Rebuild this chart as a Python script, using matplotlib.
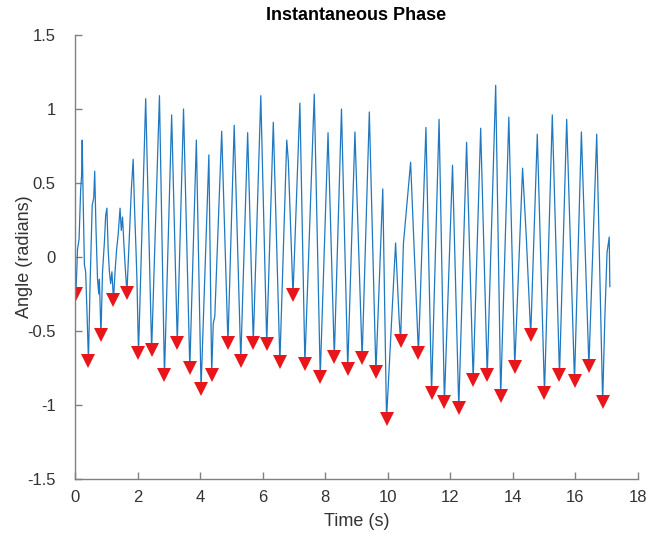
import matplotlib
matplotlib.use("Agg")
import matplotlib.pyplot as plt

plt.rcParams['font.family'] = ['Liberation Sans', 'DejaVu Sans']

# Instantaneous phase trace (vertices)
line_t = [0.00, 0.03, 0.08, 0.13, 0.18, 0.21, 0.23, 0.26, 0.30, 0.34, 0.38, 0.43,
          0.48, 0.55, 0.60, 0.63, 0.67, 0.72, 0.76, 0.78, 0.83,
          0.88, 0.94, 0.98, 1.02, 1.06, 1.10, 1.14, 1.18, 1.23,
          1.28, 1.33, 1.38, 1.44, 1.48, 1.52, 1.56, 1.60, 1.66,
          1.72, 1.80, 1.86, 1.90, 1.95, 1.98, 2.03,
          2.26, 2.45, 2.70, 2.86, 3.09, 3.27, 3.47, 3.67, 3.88, 4.03, 4.28, 4.37,
          4.42, 4.47, 4.69, 4.89, 5.09, 5.30, 5.52, 5.70, 5.94, 6.13, 6.34, 6.55,
          6.77, 6.82, 6.97, 7.19, 7.35, 7.65, 7.84, 8.09, 8.29, 8.52, 8.72,
          8.95, 9.18, 9.41, 9.62, 9.84, 9.96, 10.25, 10.36, 10.41, 10.50, 10.73,
          10.98, 11.22, 11.40, 11.64, 11.81, 12.07, 12.27, 12.52, 12.73, 12.97,
          13.18, 13.45, 13.61, 13.87, 14.06, 14.31, 14.43, 14.57, 14.78, 15.01,
          15.26, 15.49, 15.72, 15.97, 16.19, 16.43, 16.68, 16.87, 16.94, 17.01,
          17.08, 17.10]
line_y = [-0.02, -0.25, 0.05, 0.12, 0.45, 0.55, 0.79, 0.40, -0.05, -0.10, -0.35, -0.70,
          -0.20, 0.35, 0.40, 0.58, 0.20, -0.15, -0.25, -0.15, -0.53,
          -0.10, 0.10, 0.28, 0.33, 0.05, -0.10, -0.18, -0.10, -0.29,
          -0.10, 0.05, 0.15, 0.33, 0.18, 0.27, 0.10, -0.05, -0.24,
          0.05, 0.45, 0.66, 0.35, 0.05, -0.15, -0.65,
          1.07, -0.63, 1.09, -0.80, 0.96, -0.58, 1.00, -0.75, 0.79, -0.89, 0.69, -0.795,
          -0.45, -0.40, 0.85, -0.58, 0.89, -0.70, 0.84, -0.58, 1.09, -0.585, 0.91, -0.71,
          0.79, 0.65, -0.26, 1.04, -0.72, 1.10, -0.81, 0.84, -0.675, 1.00, -0.755,
          0.845, -0.685, 0.98, -0.78, 0.46, -1.095, 0.095, -0.41, -0.57, 0.09, 0.64,
          -0.65, 0.875, -0.92, 0.93, -0.98, 0.62, -1.02, 0.775, -0.83, 0.87,
          -0.80, 1.16, -0.94, 0.945, -0.74, 0.60, 0.13, -0.53, 0.83, -0.92,
          0.96, -0.80, 0.93, -0.84, 0.845, -0.735, 0.83, -0.98, -0.41, 0.03,
          0.135, -0.20]

# Detected troughs (red markers)
trough_t = [0.02, 0.43, 0.83, 1.23, 1.66, 2.03, 2.45, 2.86, 3.27, 3.67, 4.03, 4.37,
            4.89, 5.30, 5.70, 6.13, 6.55, 6.97, 7.35, 7.84, 8.29, 8.72, 9.18, 9.62,
            9.96, 10.41, 10.98, 11.40, 11.81, 12.27, 12.73, 13.18, 13.61, 14.06,
            14.57, 15.01, 15.49, 15.97, 16.43, 16.87]
trough_y = [-0.25, -0.70, -0.53, -0.29, -0.24, -0.65, -0.63, -0.80, -0.58, -0.75, -0.89, -0.795,
            -0.58, -0.70, -0.58, -0.585, -0.71, -0.26, -0.72, -0.81, -0.675, -0.755, -0.685, -0.78,
            -1.095, -0.57, -0.65, -0.92, -0.98, -1.02, -0.83, -0.80, -0.94, -0.74,
            -0.53, -0.92, -0.80, -0.84, -0.735, -0.98]

x_ticks = [0, 2, 4, 6, 8, 10, 12, 14, 16, 18]
y_ticks = [-1.5, -1, -0.5, 0, 0.5, 1, 1.5]
y_tick_labels = ['-1.5', '-1', '-0.5', '0', '0.5', '1', '1.5']

fig = plt.figure(figsize=(6.56, 5.38), dpi=100)
ax = fig.add_axes([75/656, 1-479/538, (638-75)/656, (479-35)/538])

ax.plot(line_t, line_y, color='#1F78C0', linewidth=0.9)
ax.plot(trough_t, trough_y, linestyle='none', marker='v', color='#E8161B',
        markersize=10, markeredgewidth=0)

ax.set_xlim(0, 18)
ax.set_ylim(-1.5, 1.5)
ax.set_xticks(x_ticks)
ax.set_yticks(y_ticks)
ax.set_yticklabels(y_tick_labels)

for s in ['top', 'right']:
    ax.spines[s].set_visible(False)
for s in ['left', 'bottom']:
    ax.spines[s].set_color('#808080')
    ax.spines[s].set_linewidth(1.0)
ax.tick_params(direction='in', length=5, width=1.0, color='#808080',
               labelcolor='#333333', labelsize=12)
ax.tick_params(axis='x', pad=8)
ax.tick_params(axis='y', pad=14)

ax.set_title('Instantaneous Phase', fontsize=13, fontweight='bold', color='black', pad=11)
ax.set_xlabel('Time (s)', fontsize=13, color='#333333', labelpad=6)
ax.set_ylabel('Angle (radians)', fontsize=13, color='#333333', labelpad=-4)

fig.savefig('out.png', dpi=100)
